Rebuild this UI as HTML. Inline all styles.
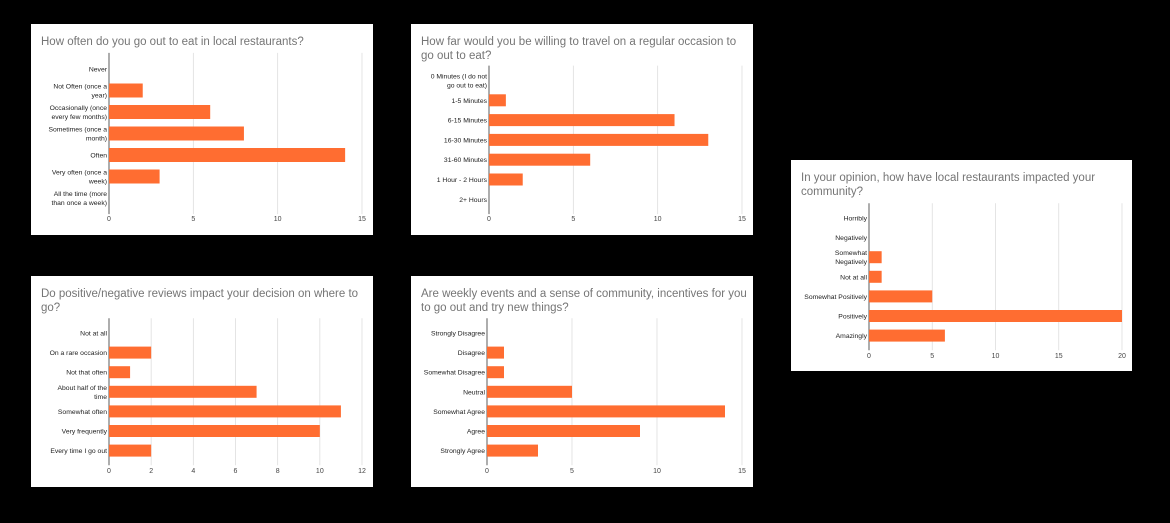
<!DOCTYPE html>
<html><head><meta charset="utf-8"><style>
html,body{margin:0;padding:0;background:#000;width:1170px;height:523px;overflow:hidden}
svg{display:block}
text{font-family:"Liberation Sans",Arial,sans-serif}
</style></head><body>
<svg id="c" width="1170" height="523"></svg>
<script>
const cats1=["Never","Not Often (once a|year)","Occasionally (once|every few months)","Sometimes (once a|month)","Often","Very often (once a|week)","All the time (more|than once a week)"];
const vals1=[0,2,6,8,14,3,0];
const ticks1=[0,5,10,15];
const cats2=["0 Minutes (I do not|go out to eat)","1-5 Minutes","6-15 Minutes","16-30 Minutes","31-60 Minutes","1 Hour - 2 Hours","2+ Hours"];
const vals2=[0,1,11,13,6,2,0];
const ticks2=[0,5,10,15];
const cats3=["Horribly","Negatively","Somewhat|Negatively","Not at all","Somewhat Positively","Positively","Amazingly"];
const vals3=[0,0,1,1,5,20,6];
const ticks3=[0,5,10,15,20];
const cats4=["Not at all","On a rare occasion","Not that often","About half of the|time","Somewhat often","Very frequently","Every time I go out"];
const vals4=[0,2,1,7,11,10,2];
const ticks4=[0,2,4,6,8,10,12];
const cats5=["Strongly Disagree","Disagree","Somewhat Disagree","Neutral","Somewhat Agree","Agree","Strongly Agree"];
const vals5=[0,1,1,5,14,9,3];
const ticks5=[0,5,10,15];

const NS="http://www.w3.org/2000/svg";
const svg=document.getElementById('c');
function mk(tag,attrs,parent){const e=document.createElementNS(NS,tag);for(const k in attrs)e.setAttribute(k,attrs[k]);parent.appendChild(e);return e;}

function chart(name,box,title,cats,vals,ticks,x0,x1,yFirst,step,barH,tickY){
  const g=mk('g',{},svg);
  
  
  const bg=mk('rect',{x:box[0],y:box[1],width:box[2],height:box[3],fill:'#fff'},g);
  
  
  const t=mk('text',{x:box[0]+10,y:box[1]+21,'font-size':'11.5',fill:'#757575'},g);
  
  
  title.split('|').forEach((ln,i)=>{const ts=mk('tspan',{x:box[0]+10,dy:i?14:0},t);ts.textContent=ln;});
  const max=ticks[ticks.length-1];
  const xs=v=>x0+(x1-x0)*v/max;
  const top=yFirst-step*0.75, bot=yFirst+step*6.75;
  ticks.forEach(v=>{
    const l=mk('line',{x1:xs(v),x2:xs(v),y1:top,y2:bot,stroke:v===0?'#333':'#ddd','stroke-width':v===0?0.8:0.8},g);
    
    
    const tx=mk('text',{x:xs(v),y:tickY,'font-size':'7','text-anchor':'middle',fill:'#444'},g);
    
    
    tx.textContent=v;
  });
  cats.forEach((c,i)=>{
    const y=yFirst+step*i;
    const lines=c.split('|');
    const lt=mk('text',{x:x0-2,y:y+2.5-(lines.length-1)*4.5,'font-size':'6.8','text-anchor':'end',fill:'#222'},g);
    
    
    lines.forEach((ln,j)=>{const ts=mk('tspan',{x:x0-2,dy:j?9:0},lt);ts.textContent=ln;});
    if(vals[i]>0){
      const b=mk('rect',{x:x0,y:y-barH/2,width:xs(vals[i])-x0,height:barH,fill:'#ff6d31'},g);
      
      
    }
  });
}
chart('chart-eat-out-frequency',[31,24,342,211],'How often do you go out to eat in local restaurants?',cats1,vals1,ticks1,109,362,69,21.5,14,221);
chart('chart-travel-distance',[411,24,342,211],'How far would you be willing to travel on a regular occasion to|go out to eat?',cats2,vals2,ticks2,489,742,80.5,19.8,12,221);
chart('chart-community-impact',[791,160,341,211],'In your opinion, how have local restaurants impacted your|community?',cats3,vals3,ticks3,869,1122,218,19.6,12,358);
chart('chart-reviews-impact',[31,276,342,211],'Do positive/negative reviews impact your decision on where to|go?',cats4,vals4,ticks4,109,362,333,19.6,12,473);
chart('chart-weekly-events',[411,276,342,211],'Are weekly events and a sense of community, incentives for you|to go out and try new things?',cats5,vals5,ticks5,487,742,333,19.6,12,473);
</script>
</body></html>
